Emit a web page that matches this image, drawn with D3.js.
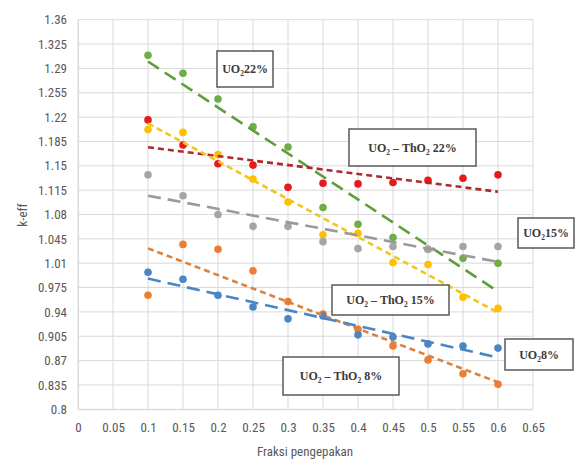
<!DOCTYPE html>
<html><head><meta charset="utf-8">
<script src="https://cdn.jsdelivr.net/npm/d3@7"></script>
<style>
body{margin:0;background:#fff;}
svg{display:block;}
.tick text{font-family:'Liberation Sans Narrow','Roboto Condensed','Liberation Sans',sans-serif;}
</style></head>
<body><svg id="c" width="575" height="463"></svg>
<script>
// ---- data ----
const fraksi = [0.1,0.15,0.2,0.25,0.3,0.35,0.4,0.45,0.5,0.55,0.6];
const uo2_22    = [1.309,1.283,1.246,1.206,1.177,1.090,1.066,1.047,1.030,1.017,1.010];
const uo2th_22  = [1.216,1.180,1.153,1.151,1.119,1.125,1.124,1.126,1.129,1.132,1.137];
const uo2_15    = [1.202,1.198,1.166,1.131,1.098,1.051,1.053,1.011,1.008,0.961,0.945];
const uo2th_15  = [1.137,1.107,1.080,1.063,1.063,1.041,1.031,1.034,1.030,1.034,1.034];
const uo2_8     = [0.964,1.037,1.030,0.999,0.955,0.937,0.915,0.891,0.871,0.851,0.836];
const uo2th_8   = [0.997,0.987,0.964,0.947,0.930,0.934,0.907,0.904,0.894,0.891,0.888];
const xTicks = [0,0.05,0.1,0.15,0.2,0.25,0.3,0.35,0.4,0.45,0.5,0.55,0.6,0.65];
const yTicks = [0.8,0.835,0.87,0.905,0.94,0.975,1.01,1.045,1.08,1.115,1.15,1.185,1.22,1.255,1.29,1.325,1.36];
const xTitle = "Fraksi pengepakan";
const yTitle = "k-eff";

const series = [
  {v:uo2_22,   pt:"#70AD47", ln:"#5E9E3A", dash:"13,7"},
  {v:uo2th_22, pt:"#E8191C", ln:"#B02A2A", dash:"6,4"},
  {v:uo2_15,   pt:"#FFC000", ln:"#F2C51C", dash:"6,4"},
  {v:uo2th_15, pt:"#A5A5A5", ln:"#9A9A9A", dash:"13,7"},
  {v:uo2_8,    pt:"#ED7D31", ln:"#D9823E", dash:"6,4"},
  {v:uo2th_8,  pt:"#4A86C5", ln:"#4A86C5", dash:"13,7"}
];
const labels = [
  {t:"22%", mix:false, x:217, y:51, w:56, h:36},
  {t:"22%", mix:true,  x:349, y:129, w:127, h:37},
  {t:"15%", mix:false, x:518, y:218, w:56, h:30},
  {t:"15%", mix:true,  x:332, y:285, w:117, h:30},
  {t:"8%",  mix:false, x:505, y:339, w:68, h:31},
  {t:"8%",  mix:true,  x:283, y:357, w:116, h:38}
];

const svg = d3.select("#c");
const x = d3.scaleLinear().domain([0,0.65]).range([78,533]);
const y = d3.scaleLinear().domain([0.8,1.36]).range([409.3,19.7]);

const g = svg.append("g");
g.selectAll(".vg").data(xTicks).enter().append("line")
  .attr("x1",d=>x(d)).attr("x2",d=>x(d)).attr("y1",y(0.8)).attr("y2",y(1.36))
  .attr("stroke","#D9D9D9").attr("stroke-width",1);
g.selectAll(".hg").data(yTicks).enter().append("line")
  .attr("x1",x(0)).attr("x2",x(0.65)).attr("y1",d=>y(d)).attr("y2",d=>y(d))
  .attr("stroke","#D9D9D9").attr("stroke-width",1);

const xa = svg.append("g").attr("transform",`translate(0,${y(0.8)})`)
  .call(d3.axisBottom(x).tickValues(xTicks).tickSize(0).tickPadding(13).tickFormat(d=>String(+d.toFixed(2))));
const ya = svg.append("g").attr("transform",`translate(${x(0)},0)`)
  .call(d3.axisLeft(y).tickValues(yTicks).tickSize(0).tickPadding(11).tickFormat(d=>String(+d.toFixed(3))));
[xa,ya].forEach(a=>{a.select(".domain").attr("stroke","#D9D9D9");
  a.selectAll("text").attr("fill","#595959").attr("font-size","13px");});

svg.append("text").attr("x",305).attr("y",456).attr("text-anchor","middle")
  .attr("font-family","'Liberation Sans Narrow','Roboto Condensed','Liberation Sans',sans-serif")
  .attr("font-size","13px").attr("fill","#595959").text(xTitle);
svg.append("text").attr("transform","translate(27,215) rotate(-90)").attr("text-anchor","middle")
  .attr("font-family","'Liberation Sans Narrow','Roboto Condensed','Liberation Sans',sans-serif")
  .attr("font-size","13px").attr("fill","#595959").text(yTitle);

function fit(vals){
  const n=fraksi.length, mx=d3.mean(fraksi), my=d3.mean(vals);
  let sxy=0,sxx=0;
  for(let i=0;i<n;i++){sxy+=(fraksi[i]-mx)*(vals[i]-my);sxx+=(fraksi[i]-mx)**2;}
  const b=sxy/sxx, a=my-b*mx;
  return t=>a+b*t;
}
const x0=d3.min(fraksi), x1=d3.max(fraksi);
series.forEach(s=>{
  svg.append("g").selectAll("circle").data(s.v).enter().append("circle")
    .attr("cx",(d,i)=>x(fraksi[i])).attr("cy",d=>y(d)).attr("r",3.8).attr("fill",s.pt);
});
series.forEach(s=>{
  const f=fit(s.v);
  svg.append("line").attr("x1",x(x0)).attr("y1",y(f(x0))).attr("x2",x(x1)).attr("y2",y(f(x1)))
    .attr("stroke",s.ln).attr("stroke-width",2.6).attr("stroke-dasharray",s.dash);
});

labels.forEach(L=>{
  const lg=svg.append("g");
  lg.append("rect").attr("x",L.x).attr("y",L.y).attr("width",L.w).attr("height",L.h)
    .attr("fill","#fff").attr("stroke","#595959").attr("stroke-width",1.5);
  const t=lg.append("text").attr("x",L.x+L.w/2).attr("y",L.y+L.h/2+4).attr("text-anchor","middle")
    .attr("font-family","'Liberation Serif','DejaVu Serif',serif").attr("font-weight","bold")
    .attr("font-size","12px").attr("fill","#3a3a3a");
  t.append("tspan").text("UO");
  t.append("tspan").attr("font-size","7.5px").attr("dy",3).text("2");
  if(L.mix){
    t.append("tspan").attr("dy",-3).text(" \u2013 ThO");
    t.append("tspan").attr("font-size","7.5px").attr("dy",3).text("2");
    t.append("tspan").attr("dy",-3).text(" "+L.t);
  } else {
    t.append("tspan").attr("dy",-3).text(L.t);
  }
});
</script></body></html>
